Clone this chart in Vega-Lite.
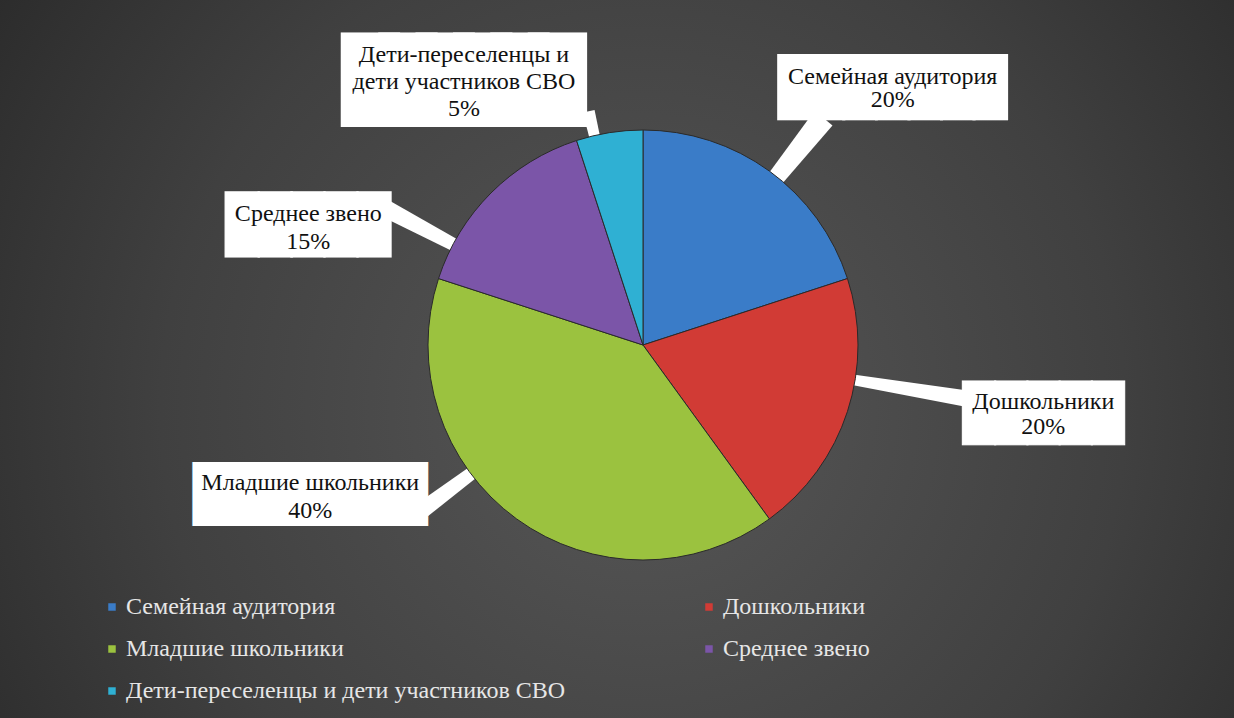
{
  "$schema": "https://vega.github.io/schema/vega-lite/v6.json",
  "width": 1286,
  "height": 746,
  "autosize": "none",
  "padding": {"left": 0, "top": -28, "right": -52, "bottom": 0},
  "background": "#242424",
  "config": {"view": {"stroke": null}},
  "data": {
    "values": [
      {"i": 1, "category": "Семейная аудитория", "value": 20, "label": "Семейная аудитория\n20%"},
      {"i": 2, "category": "Дошкольники", "value": 20, "label": "Дошкольники\n20%"},
      {"i": 3, "category": "Младшие школьники", "value": 40, "label": "Младшие школьники\n40%"},
      {"i": 4, "category": "Среднее звено", "value": 15, "label": "Среднее звено\n15%"},
      {"i": 5, "category": "Дети-переселенцы и дети участников СВО", "value": 5, "label": "Дети-переселенцы и\nдети участников СВО\n5%"}
    ]
  },
  "layer": [
    {
      "data": {"values": [{}]},
      "mark": {"type": "rect", "color": {"gradient": "radial", "x1": 0.5, "y1": 0.55, "r1": 0, "x2": 0.5, "y2": 0.55, "r2": 0.75,
        "stops": [{"offset": 0, "color": "#575757"}, {"offset": 0.5, "color": "#404040"}, {"offset": 1, "color": "#1e1e1e"}]}},
      "encoding": {}
    },
    {"data": {"values": [{}]}, "mark": {"type": "arc", "color": "#ffffff"},
      "encoding": {"theta": {"value": 0.632}, "theta2": {"value": 0.712}, "radius": {"value": 290}, "radius2": {"value": 0}}},
    {"data": {"values": [{}]}, "mark": {"type": "arc", "color": "#ffffff"},
      "encoding": {"theta": {"value": 1.71}, "theta2": {"value": 1.76}, "radius": {"value": 335}, "radius2": {"value": 0}}},
    {"data": {"values": [{}]}, "mark": {"type": "arc", "color": "#ffffff"},
      "encoding": {"theta": {"value": 4.04}, "theta2": {"value": 4.10}, "radius": {"value": 275}, "radius2": {"value": 0}}},
    {"data": {"values": [{}]}, "mark": {"type": "arc", "color": "#ffffff"},
      "encoding": {"theta": {"value": 5.17}, "theta2": {"value": 5.23}, "radius": {"value": 290}, "radius2": {"value": 0}}},
    {"data": {"values": [{}]}, "mark": {"type": "arc", "color": "#ffffff"},
      "encoding": {"theta": {"value": 6.03}, "theta2": {"value": 6.08}, "radius": {"value": 240}, "radius2": {"value": 0}}},
    {
      "mark": {"type": "arc", "outerRadius": 215, "stroke": "#2a2a2a", "strokeWidth": 1},
      "encoding": {
        "theta": {"field": "value", "type": "quantitative", "stack": true},
        "order": {"field": "i", "type": "quantitative"},
        "color": {
          "field": "category", "type": "nominal",
          "scale": {
            "domain": ["Семейная аудитория", "Дошкольники", "Младшие школьники", "Среднее звено", "Дети-переселенцы и дети участников СВО"],
            "range": ["#3a7cc8", "#d13b35", "#9bc23f", "#7b55a8", "#2fb0d3"]
          },
          "legend": {
            "orient": "none", "direction": "horizontal", "legendX": 100, "legendY": 623, "columns": 2, "columnPadding": 131, "rowPadding": 18,
            "symbolType": "square", "symbolSize": 56, "symbolStrokeWidth": 0, "symbolOpacity": 1,
            "labelFont": "Liberation Serif, Times New Roman, serif", "labelFontSize": 24, "labelColor": "#e6e6e6", "labelLimit": 700, "labelOffset": 2,
            "title": null, "padding": 0
          }
        }
      }
    },
    {
      "mark": {"type": "text", "font": "DejaVu Sans Mono", "fontSize": 54.1, "color": "#ffffff", "stroke": "#ffffff", "strokeWidth": 2, "strokeJoin": "miter", "align": "center", "baseline": "middle", "radius": 355, "dx": 41, "dy": 32.5},
      "encoding": {"theta": {"field": "value", "type": "quantitative", "stack": true}, "order": {"field": "i", "type": "quantitative"}, "detail": {"field": "category"},
        "text": {"condition": {"test": "datum.i === 1", "value": "███████"}, "value": ""}}
    },
    {
      "mark": {"type": "text", "font": "DejaVu Sans Mono", "fontSize": 53.6, "color": "#ffffff", "stroke": "#ffffff", "strokeWidth": 1, "strokeJoin": "miter", "align": "center", "baseline": "middle", "radius": 402, "dx": 18, "dy": -54},
      "encoding": {"theta": {"field": "value", "type": "quantitative", "stack": true}, "order": {"field": "i", "type": "quantitative"}, "detail": {"field": "category"},
        "text": {"condition": {"test": "datum.i === 2", "value": "█████"}, "value": ""}}
    },
    {
      "mark": {"type": "text", "font": "DejaVu Sans Mono", "fontSize": 47.1, "color": "#ffffff", "stroke": "#ffffff", "strokeWidth": 8, "strokeJoin": "miter", "align": "center", "baseline": "middle", "radius": 316, "dx": -147, "dy": -105},
      "encoding": {"theta": {"field": "value", "type": "quantitative", "stack": true}, "order": {"field": "i", "type": "quantitative"}, "detail": {"field": "category"},
        "text": {"condition": {"test": "datum.i === 3", "value": "████████"}, "value": ""}}
    },
    {
      "mark": {"type": "text", "font": "DejaVu Sans Mono", "fontSize": 54.7, "color": "#ffffff", "stroke": "#ffffff", "strokeWidth": 1.3, "strokeJoin": "miter", "align": "center", "baseline": "middle", "radius": 322, "dx": -107, "dy": 109.5},
      "encoding": {"theta": {"field": "value", "type": "quantitative", "stack": true}, "order": {"field": "i", "type": "quantitative"}, "detail": {"field": "category"},
        "text": {"condition": {"test": "datum.i === 4", "value": "█████"}, "value": ""}}
    },
    {
      "mark": {"type": "text", "font": "DejaVu Sans Mono", "fontSize": 62.1, "color": "#ffffff", "stroke": "#ffffff", "strokeWidth": 20.7, "strokeJoin": "miter", "align": "center", "baseline": "middle", "radius": 291, "dx": -133.5, "dy": 24},
      "encoding": {"theta": {"field": "value", "type": "quantitative", "stack": true}, "order": {"field": "i", "type": "quantitative"}, "detail": {"field": "category"},
        "text": {"condition": {"test": "datum.i === 5", "value": "██████"}, "value": ""}}
    },
    {
      "mark": {"type": "text", "font": "Liberation Serif, Times New Roman, serif", "fontSize": 24, "lineHeight": 23, "lineBreak": "\n", "color": "#111111", "align": "center", "baseline": "middle", "radius": 355, "dx": 41, "dy": 19.5},
      "encoding": {"theta": {"field": "value", "type": "quantitative", "stack": true}, "order": {"field": "i", "type": "quantitative"}, "detail": {"field": "category"},
        "text": {"condition": {"test": "datum.i === 1", "field": "label", "type": "nominal"}, "value": ""}}
    },
    {
      "mark": {"type": "text", "font": "Liberation Serif, Times New Roman, serif", "fontSize": 24, "lineHeight": 25, "lineBreak": "\n", "color": "#111111", "align": "center", "baseline": "middle", "radius": 402, "dx": 18, "dy": -67},
      "encoding": {"theta": {"field": "value", "type": "quantitative", "stack": true}, "order": {"field": "i", "type": "quantitative"}, "detail": {"field": "category"},
        "text": {"condition": {"test": "datum.i === 2", "field": "label", "type": "nominal"}, "value": ""}}
    },
    {
      "mark": {"type": "text", "font": "Liberation Serif, Times New Roman, serif", "fontSize": 24, "lineHeight": 28, "lineBreak": "\n", "color": "#111111", "align": "center", "baseline": "middle", "radius": 316, "dx": -147, "dy": -118},
      "encoding": {"theta": {"field": "value", "type": "quantitative", "stack": true}, "order": {"field": "i", "type": "quantitative"}, "detail": {"field": "category"},
        "text": {"condition": {"test": "datum.i === 3", "field": "label", "type": "nominal"}, "value": ""}}
    },
    {
      "mark": {"type": "text", "font": "Liberation Serif, Times New Roman, serif", "fontSize": 24, "lineHeight": 28, "lineBreak": "\n", "color": "#111111", "align": "center", "baseline": "middle", "radius": 322, "dx": -107, "dy": 97},
      "encoding": {"theta": {"field": "value", "type": "quantitative", "stack": true}, "order": {"field": "i", "type": "quantitative"}, "detail": {"field": "category"},
        "text": {"condition": {"test": "datum.i === 4", "field": "label", "type": "nominal"}, "value": ""}}
    },
    {
      "mark": {"type": "text", "font": "Liberation Serif, Times New Roman, serif", "fontSize": 24, "lineHeight": 27, "lineBreak": "\n", "color": "#111111", "align": "center", "baseline": "middle", "radius": 291, "dx": -133.5, "dy": -3},
      "encoding": {"theta": {"field": "value", "type": "quantitative", "stack": true}, "order": {"field": "i", "type": "quantitative"}, "detail": {"field": "category"},
        "text": {"condition": {"test": "datum.i === 5", "field": "label", "type": "nominal"}, "value": ""}}
    }
  ]
}
